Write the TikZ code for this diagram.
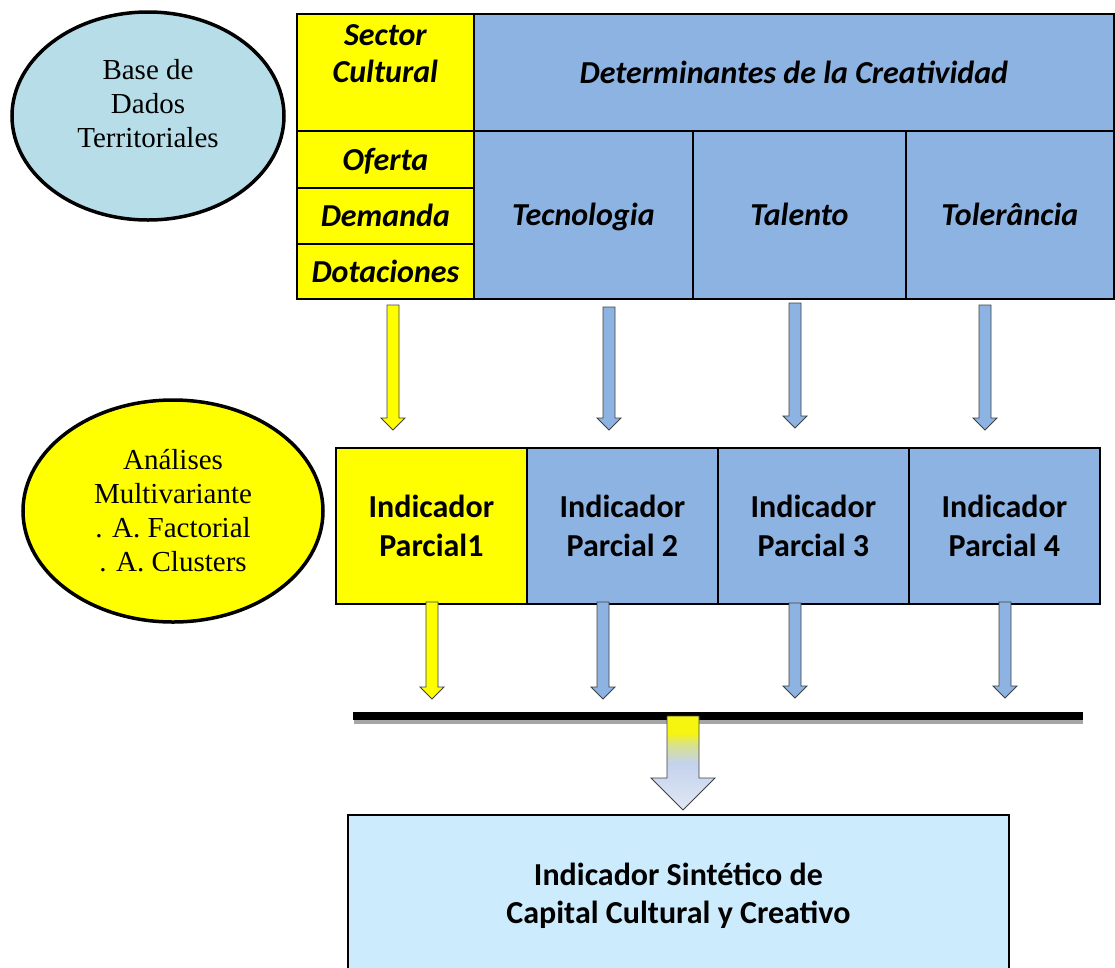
\documentclass[tikz,border=0pt]{standalone}
\usepackage{fontspec}
\setmainfont{Liberation Serif}
\newfontfamily\calib{Carlito}
\usepackage{tikz}
\usetikzlibrary{shapes.geometric,positioning}
\definecolor{cellYellow}{HTML}{FFFF00}
\definecolor{cellBlue}{HTML}{8DB3E2}
\definecolor{ellBlue}{HTML}{B7DEE8}
\definecolor{finalBlue}{HTML}{CCEBFD}
\definecolor{arrGray}{HTML}{404040}
\definecolor{shadowGray}{HTML}{A6A6A6}
\definecolor{bigBlue}{HTML}{C3D2EC}
\definecolor{bigLight}{HTML}{E1E8F5}
\definecolor{bigYellow}{HTML}{F5F50F}
\pgfdeclareverticalshading{yelblue}{100bp}{color(0bp)=(bigLight); color(25bp)=(bigLight); color(50bp)=(bigBlue); color(60bp)=(bigYellow!45!bigBlue); color(66bp)=(bigYellow); color(100bp)=(bigYellow)}
\newcommand{\cellstrut}{\rule[-8pt]{0pt}{38pt}}
% block arrow pointing down: x, top y, tip y, fill
\newcommand{\blockdown}[4]{\draw[blk, fill=#4] (#1-6,#2) -- (#1+6,#2) -- (#1+6,#3-12) -- (#1+12,#3-12) -- (#1,#3) -- (#1-12,#3-12) -- (#1-6,#3-12) -- cycle;}

\begin{document}
\begin{tikzpicture}[
x=1pt, y=-1pt,
ell/.style={ellipse, draw, line width=3.5pt, inner sep=0pt, align=center, font=\fontsize{29}{34}\selectfont},
cell/.style={draw, line width=1.8pt, anchor=north west, inner sep=0pt, align=center, execute at begin node=\cellstrut, font=\calib\bfseries\itshape\fontsize{32}{37}\selectfont},
ind/.style={draw, line width=1.8pt, anchor=north west, inner sep=0pt, align=center, font=\calib\bfseries\fontsize{32}{39}\selectfont},
blk/.style={draw=arrGray, line width=0.8pt}
]
\clip (0,0) rectangle (1115,967);

% Ellipses on the left
\node[ell, fill=ellBlue, minimum width=272, minimum height=208,
  label={[align=center, font=\fontsize{29}{34}\selectfont, yshift=12pt]center:Base de\\Dados\\Territoriales}] (base) at (148,116) {};
\node[ell, fill=cellYellow, minimum width=300, minimum height=222] (analise) at (173,511) {An\'alises\\Multivariante\\. A. Factorial\\. A. Clusters};

% Top table
\node[cell, fill=cellYellow, minimum width=177, minimum height=117] (sector) at (296,13) {Sector\\Cultural\\[-8pt]\mbox{}};
\node[cell, fill=cellBlue, minimum width=640, minimum height=117] (determ) at (473,13) {Determinantes de la Creatividad};
\node[cell, fill=cellYellow, minimum width=177, minimum height=57] (oferta) at (296,130) {Oferta};
\node[cell, fill=cellYellow, minimum width=177, minimum height=56] (demanda) at (296,187) {Demanda};
\node[cell, fill=cellYellow, minimum width=177, minimum height=55] (dotac) at (296,243) {Dotaciones};
\node[cell, fill=cellBlue, minimum width=219, minimum height=168] (tecno) at (473,130) {Tecnologia};
\node[cell, fill=cellBlue, minimum width=213, minimum height=168] (talento) at (692,130) {Talento};
\node[cell, fill=cellBlue, minimum width=208, minimum height=168] (toler) at (905,130) {Toler\^ancia};

% Arrows to partial indicators
\blockdown{393}{305}{430}{cellYellow}
\blockdown{609}{307}{430}{cellBlue}
\blockdown{795}{303}{428}{cellBlue}
\blockdown{985}{305}{430}{cellBlue}

% Partial indicators
\node[ind, fill=cellYellow, minimum width=191, minimum height=156] (ind1) at (335,447) {Indicador\\Parcial1};
\node[ind, fill=cellBlue, minimum width=191, minimum height=156] (ind2) at (526,447) {Indicador\\Parcial 2};
\node[ind, fill=cellBlue, minimum width=191, minimum height=156] (ind3) at (717,447) {Indicador\\Parcial 3};
\node[ind, fill=cellBlue, minimum width=191, minimum height=156] (ind4) at (908,447) {Indicador\\Parcial 4};

\blockdown{432}{602}{699}{cellYellow}
\blockdown{603}{602}{699}{cellBlue}
\blockdown{795}{603}{698}{cellBlue}
\blockdown{1005}{602}{698}{cellBlue}

% Summing bar with shadow
\coordinate (barL) at (353,716);
\coordinate (barR) at (1083,716);
\draw[shadowGray, line width=4pt] ([shift={(1,6)}]barL) -- ([shift={(0,6)}]barR);
\draw[black, line width=8pt] (barL) -- (barR);

% Big arrow to final indicator
\path[shading=yelblue, draw=arrGray, line width=0.8pt] (667,716) -- (699,716) -- (699,778) -- (715,778) -- (683,810) -- (651,778) -- (667,778) -- cycle;

% Final indicator
\node[ind, fill=finalBlue, minimum width=661, minimum height=162, font=\calib\bfseries\fontsize{32}{38}\selectfont] (sintetico) at (347,814) {Indicador Sint\'etico de\\Capital Cultural y Creativo};
\end{tikzpicture}
\end{document}
